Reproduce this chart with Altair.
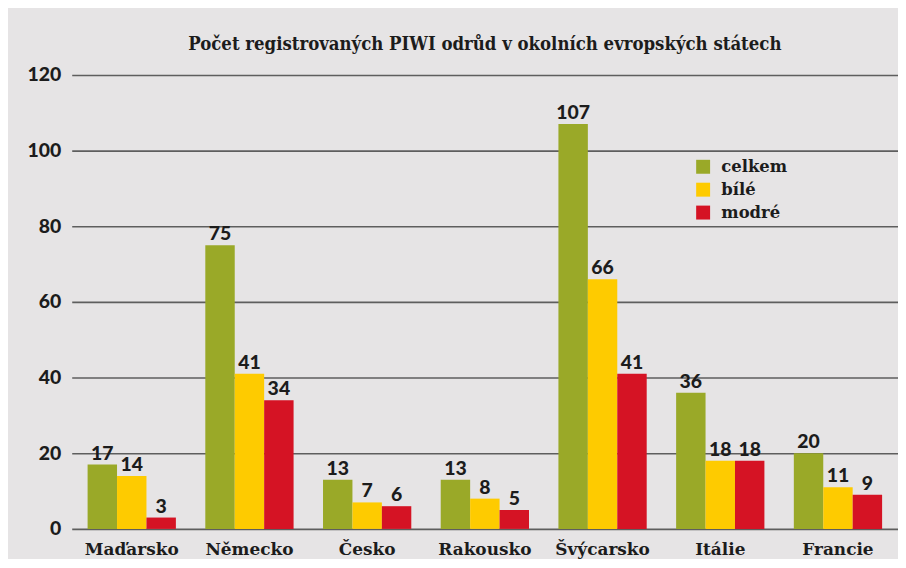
import altair as alt
import pandas as pd

countries = ["Maďarsko", "Německo", "Česko", "Rakousko", "Švýcarsko", "Itálie", "Francie"]
series = ["celkem", "bílé", "modré"]
celkem = [17, 75, 13, 13, 107, 36, 20]
bile = [14, 41, 7, 8, 66, 18, 11]
modre = [3, 34, 6, 5, 41, 18, 9]
colors = ["#9aa928", "#fecb00", "#d51324"]
y_ticks = [0, 20, 40, 60, 80, 100, 120]
title = "Počet registrovaných PIWI odrůd v okolních evropských státech"

rows = []
for i, c in enumerate(countries):
    for s, vals in zip(series, [celkem, bile, modre]):
        rows.append({"země": c, "řada": s, "počet": vals[i]})
df = pd.DataFrame(rows)

SERIF = "DejaVu Serif"
SANS = "Lato"
INK = "#1c1c1c"

x = alt.X("země:N", sort=countries, title=None,
          scale=alt.Scale(paddingInner=0.25, paddingOuter=0.135),
          axis=alt.Axis(labelAngle=0, labelFont=SERIF, labelFontSize=17,
                        labelFontWeight="bold", labelColor=INK, labelPadding=13,
                        ticks=False, domain=False, grid=False))
xo = alt.XOffset("řada:N", sort=series, scale=alt.Scale(paddingInner=0, paddingOuter=0))
y = alt.Y("počet:Q", title=None,
          scale=alt.Scale(domain=[0, 120], nice=False),
          axis=alt.Axis(values=y_ticks, labelFont=SANS, labelFontSize=19.5,
                        labelFontWeight=900, labelColor=INK, labelPadding=11,
                        ticks=False, domain=False, grid=True, gridColor="#5e5e5e",
                        gridWidth=1.6, minExtent=64))

bars = alt.Chart(df).mark_bar().encode(
    x=x, xOffset=xo, y=y,
    color=alt.Color("řada:N", sort=series,
                    scale=alt.Scale(domain=series, range=colors),
                    legend=alt.Legend(title=None, orient="none", legendX=626, legendY=84,
                                      symbolType="square", symbolSize=196,
                                      symbolStrokeWidth=0, labelFont=SERIF,
                                      labelFontSize=16.5, labelFontWeight="bold",
                                      labelColor=INK, rowPadding=6, labelOffset=10,
                                      padding=0)),
)

labels = alt.Chart(df).mark_text(font=SANS, fontSize=19.5, fontWeight=900,
                                 color=INK, baseline="alphabetic", dy=-5).encode(
    x=alt.X("země:N", sort=countries), xOffset=alt.XOffset("řada:N", sort=series),
    y="počet:Q", text="počet:Q",
)

chart = (bars + labels).properties(
    width=830, height=456,
    title=alt.TitleParams(title, font="DejaVu Serif Condensed", fontSize=18.5,
                          fontWeight="bold", color=INK, anchor="middle",
                          frame="group", offset=12),
    background="#e6e4e5",
    padding={"left": 0, "top": 25, "right": 0, "bottom": 0},
).configure_view(stroke=None)

chart.save("out.html", embed_options={"renderer": "svg", "actions": False})
